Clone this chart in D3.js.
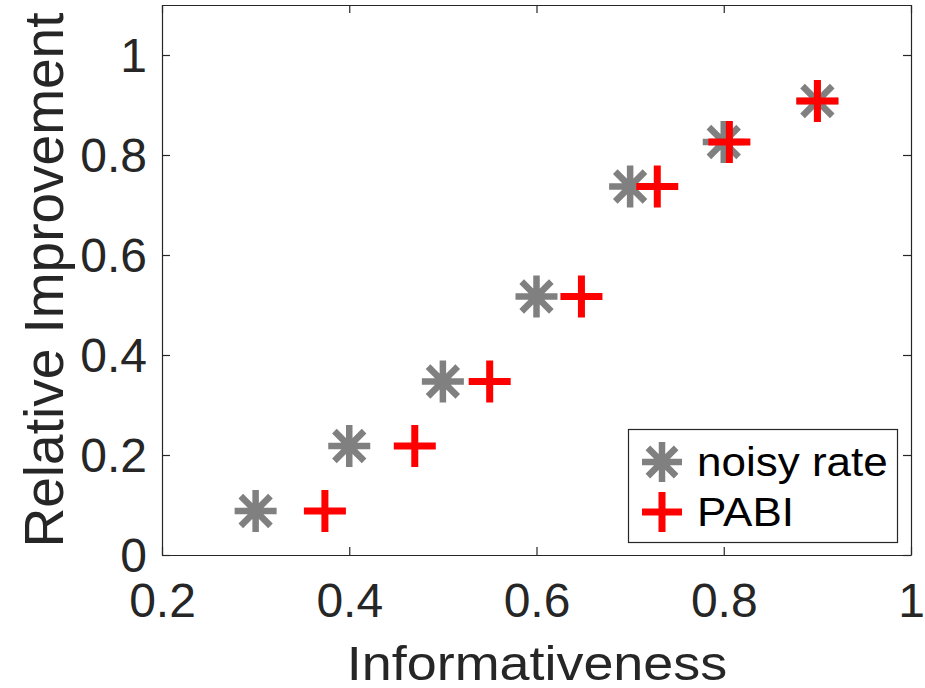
<!DOCTYPE html>
<html>
<head>
<meta charset="utf-8">
<script src="https://cdn.jsdelivr.net/npm/d3@7"></script>
<style>
  body { margin: 0; background: #fff; }
  text { font-family: "Liberation Sans", Arial, Helvetica, sans-serif; }
</style>
</head>
<body>
<svg id="chart" width="925" height="688"></svg>
<script>
// data
const noisyX = [0.3, 0.4, 0.5, 0.6, 0.7, 0.8, 0.9];
const noisyY = [0.088, 0.218, 0.347, 0.517, 0.737, 0.826, 0.908];
const pabiX = [0.374, 0.47, 0.55, 0.648, 0.729, 0.806, 0.90];
const pabiY = [0.088, 0.218, 0.347, 0.517, 0.737, 0.826, 0.908];
const xTicks = [0.2, 0.4, 0.6, 0.8, 1];
const yTicks = [0, 0.2, 0.4, 0.6, 0.8, 1];

const svg = d3.select("#chart");
const plotL = 162, plotR = 911, plotT = 5, plotB = 555;
const axisColor = "#262626";

var x = d3.scaleLinear().domain([0.2, 1]).range([plotL, plotR]);
var y = d3.scaleLinear().domain([0, 1.1]).range([plotB, plotT]);

const fmt = d => d === 0 || d === 1 ? String(d) : d3.format(".1f")(d);

// bottom axis
var gx = svg.append("g").attr("transform", `translate(0,${plotB})`)
  .call(d3.axisBottom(x).tickValues(xTicks).tickFormat(fmt).tickSizeInner(-8).tickSizeOuter(0).tickPadding(28));
// left axis
var gy = svg.append("g").attr("transform", `translate(${plotL},0)`)
  .call(d3.axisLeft(y).tickValues(yTicks).tickFormat(fmt).tickSizeInner(-8).tickSizeOuter(0).tickPadding(15));
// top and right (ticks only)
var gt = svg.append("g").attr("transform", `translate(0,${plotT})`)
  .call(d3.axisTop(x).tickValues(xTicks).tickFormat("").tickSizeInner(-8).tickSizeOuter(0));
var gr = svg.append("g").attr("transform", `translate(${plotR},0)`)
  .call(d3.axisRight(y).tickValues(yTicks).tickFormat("").tickSizeInner(-8).tickSizeOuter(0));

[gx, gy, gt, gr].forEach(g => {
  g.select(".domain").attr("stroke", axisColor).attr("stroke-width", 1.2);
  g.selectAll(".tick line").attr("stroke", axisColor).attr("stroke-width", 1.2);
  g.selectAll(".tick text").attr("fill", axisColor).style("font-size", "48px");
});
gx.selectAll(".tick text").attr("dy", "0.71em");
gy.selectAll(".tick text").attr("dy", "0.35em");

// axis titles (the original glyphs are a bit wider than Liberation Sans)
svg.append("text")
  .attr("transform", "translate(537,680) scale(1.1,1)")
  .attr("text-anchor", "middle").attr("fill", axisColor)
  .style("font-size", "49px")
  .text("Informativeness");
svg.append("text")
  .attr("transform", "translate(63,280) rotate(-90)")
  .attr("text-anchor", "middle").attr("fill", axisColor)
  .style("font-size", "55px")
  .text("Relative Improvement");

// marker paths
const starPath = r => {
  const d = r * Math.SQRT1_2;
  return `M${-r},0H${r}M0,${-r}V${r}M${-d},${-d}L${d},${d}M${-d},${d}L${d},${-d}`;
};
const plusPath = r => `M${-r},0H${r}M0,${-r}V${r}`;

const gray = "#808080", red = "#ff0000";

svg.append("g").selectAll("path")
  .data(d3.zip(noisyX, noisyY))
  .join("path")
  .attr("transform", d => `translate(${x(d[0])},${y(d[1])})`)
  .attr("d", starPath(21))
  .attr("stroke", gray).attr("stroke-width", 6.5).attr("fill", "none");

svg.append("g").selectAll("path")
  .data(d3.zip(pabiX, pabiY))
  .join("path")
  .attr("transform", d => `translate(${x(d[0])},${y(d[1])})`)
  .attr("d", plusPath(21))
  .attr("stroke", red).attr("stroke-width", 7).attr("fill", "none");

// legend
var lg = svg.append("g");
lg.append("rect").attr("x", 628.5).attr("y", 429.5).attr("width", 269).attr("height", 113)
  .attr("fill", "#fff").attr("stroke", "#262626").attr("stroke-width", 1.2);
const legendItems = [
  { label: "noisy rate", path: starPath(20), color: gray, w: 6.5 },
  { label: "PABI", path: plusPath(20), color: red, w: 7 }
];
legendItems.forEach((it, i) => {
  const cy = 462 + i * 50;
  lg.append("path").attr("transform", `translate(662,${cy})`)
    .attr("d", it.path).attr("stroke", it.color).attr("stroke-width", it.w).attr("fill", "none");
  lg.append("text").attr("transform", `translate(697,${cy + 14}) scale(1.1,1)`)
    .attr("fill", "#000").style("font-size", "40px").text(it.label);
});
</script>
</body>
</html>
